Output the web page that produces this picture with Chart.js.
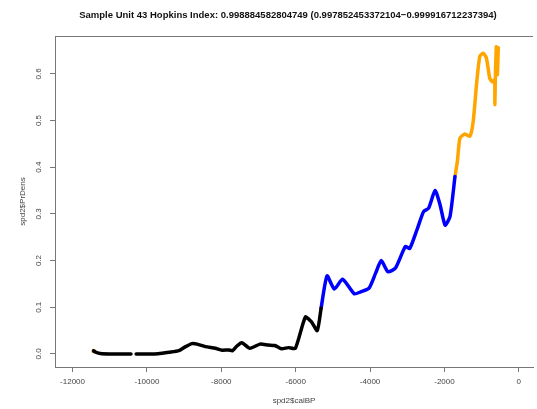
<!DOCTYPE html>
<html lang="en">
<head>
    <meta charset="UTF-8">
    <title>Sample Unit 43 Hopkins Index</title>
    <script src="https://cdn.jsdelivr.net/npm/chart.js"></script>
    <style>
        body {
            margin: 0;
            background: #fff;
        }
        #wrap {
            width: 537px;
            height: 409px;
        }
    </style>
</head>
<body>
    <div id="wrap"><canvas id="spd-chart" width="537" height="409"></canvas></div>

    <script>
        // black part (before ~5300 BP), with a small gap near -10400
        const blackX = [-11432, -11380, -11250, -11000, -10700, -10430, -10360, -10290, -10000, -9700, -9400, -9140, -8960, -8790, -8650, -8430, -8160, -7980, -7800, -7700, -7580, -7450, -7230, -6960, -6740, -6560, -6380, -6200, -6010, -5740, -5580, -5420, -5317];
        const blackY = [0.0064, 0.004, 0.001, 0, 0, 0, null, 0, 0, 0.0005, 0.0036, 0.007, 0.0156, 0.022, 0.021, 0.0156, 0.012, 0.008, 0.0086, 0.007, 0.017, 0.024, 0.012, 0.021, 0.019, 0.018, 0.011, 0.0135, 0.012, 0.079, 0.069, 0.050, 0.098];

        const blueX = [-5317, -5157, -4960, -4739, -4427, -4251, -4027, -3851, -3699, -3520, -3317, -3051, -2933, -2739, -2560, -2427, -2251, -2117, -1984, -1851, -1717];
        const blueY = [0.098, 0.167, 0.139, 0.160, 0.129, 0.133, 0.141, 0.173, 0.200, 0.176, 0.184, 0.230, 0.226, 0.266, 0.305, 0.312, 0.350, 0.319, 0.276, 0.294, 0.380];

        const orangeX = [-1717, -1653, -1584, -1451, -1317, -1227, -1139, -1051, -960, -872, -784, -712, -651, -645, -632, -605, -579, -552];
        const orangeY = [0.380, 0.412, 0.462, 0.471, 0.466, 0.498, 0.576, 0.637, 0.644, 0.634, 0.591, 0.583, 0.587, 0.534, 0.587, 0.658, 0.598, 0.656];

        const startX = [-11432];
        const startY = [0.0064];

        const xTicks = [-12000, -10000, -8000, -6000, -4000, -2000, 0];
        const yTicks = [0, 0.1, 0.2, 0.3, 0.4, 0.5, 0.6];

        const titleText = 'Sample Unit 43 Hopkins Index: 0.998884582804749 (0.997852453372104\u22120.999916712237394)';

        function toPoints(xs, ys) {
            return xs.map((x, i) => ({ x: x, y: ys[i] }));
        }

        function lineSet(xs, ys, color) {
            return {
                data: toPoints(xs, ys),
                borderColor: color,
                backgroundColor: color,
                borderWidth: 3.5,
                borderCapStyle: 'round',
                borderJoinStyle: 'round',
                pointRadius: 0,
                tension: 0.2,
                spanGaps: false
            };
        }

        // box top edge + main title
        const boxAndTitle = {
            id: 'boxAndTitle',
            afterDraw(chart) {
                const ctx = chart.ctx;
                const area = chart.chartArea;
                ctx.save();
                ctx.strokeStyle = '#777';
                ctx.lineWidth = 1;
                ctx.beginPath();
                ctx.moveTo(area.left, area.top + 0.5);
                ctx.lineTo(area.right, area.top + 0.5);
                ctx.stroke();
                ctx.fillStyle = '#111';
                ctx.font = 'bold 9.5px "Liberation Sans", Arial, sans-serif';
                ctx.textAlign = 'center';
                ctx.textBaseline = 'middle';
                ctx.fillText(titleText, 288, 15);
                ctx.restore();
            }
        };

        const tickFont = { family: '"Liberation Sans", Arial, sans-serif', size: 8 };

        new Chart(document.getElementById('spd-chart').getContext('2d'), {
            type: 'line',
            data: {
                datasets: [
                    lineSet(blackX, blackY, '#000000'),
                    lineSet(blueX, blueY, '#0000ff'),
                    lineSet(orangeX, orangeY, '#ffa500'),
                    {
                        data: toPoints(startX, startY),
                        showLine: false,
                        pointRadius: 2.2,
                        pointBackgroundColor: '#b8741a',
                        pointBorderWidth: 0
                    }
                ]
            },
            options: {
                responsive: false,
                animation: false,
                layout: { padding: { top: 36, left: 0, right: 0, bottom: 0 } },
                plugins: {
                    legend: { display: false },
                    tooltip: { enabled: false }
                },
                scales: {
                    x: {
                        type: 'linear',
                        min: -12472,
                        max: 381,
                        afterBuildTicks: s => { s.ticks = xTicks.map(v => ({ value: v })); },
                        afterFit: s => { s.height = 42; },
                        grid: { drawOnChartArea: false, tickLength: 5, color: '#777' },
                        border: { display: true, color: '#777' },
                        ticks: {
                            font: tickFont,
                            color: '#444',
                            padding: 5,
                            maxRotation: 0,
                            autoSkip: false,
                            callback: v => String(v)
                        },
                        title: {
                            display: true,
                            text: 'spd2$calBP',
                            font: tickFont,
                            color: '#444',
                            padding: { top: 0, bottom: 3 }
                        }
                    },
                    y: {
                        type: 'linear',
                        min: -0.028,
                        max: 0.681,
                        afterBuildTicks: s => { s.ticks = yTicks.map(v => ({ value: v })); },
                        afterFit: s => { s.width = 55; },
                        grid: { drawOnChartArea: false, tickLength: 5, color: '#777' },
                        border: { display: true, color: '#777' },
                        ticks: {
                            font: tickFont,
                            color: '#444',
                            padding: 6,
                            minRotation: 90,
                            maxRotation: 90,
                            crossAlign: 'center',
                            callback: v => v.toFixed(1)
                        },
                        title: {
                            display: true,
                            text: 'spd2$PrDens',
                            font: tickFont,
                            color: '#444',
                            padding: { top: 18, bottom: 0 }
                        }
                    }
                }
            },
            plugins: [boxAndTitle]
        });
    </script>
</body>
</html>
